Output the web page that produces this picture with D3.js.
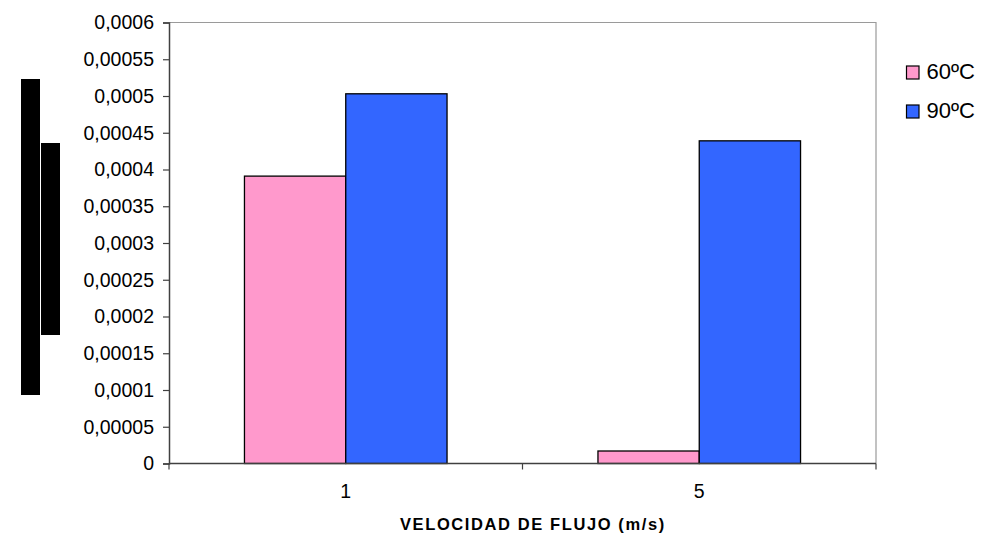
<!DOCTYPE html>
<html>
<head>
<meta charset="utf-8">
<script src="https://cdn.jsdelivr.net/npm/d3@7"></script>
<style>
  html, body { margin: 0; padding: 0; background: #fff; }
  svg { display: block; font-family: "Liberation Sans", Arial, sans-serif; }
</style>
</head>
<body>
<svg id="chart" width="981" height="533"></svg>
<script>
// Flow velocity categories (m/s) and the two temperature series
const categories = ["1", "5"];
const seriesNames = ["60ºC", "90ºC"];
const values60 = [0.000391, 0.000017];
const values90 = [0.000503, 0.000439];
const seriesColors = ["#FF99CC", "#3366FF"];
const yTicks = [0, 0.00005, 0.0001, 0.00015, 0.0002, 0.00025, 0.0003, 0.00035,
                0.0004, 0.00045, 0.0005, 0.00055, 0.0006];
const xTitle = "VELOCIDAD DE FLUJO (m/s)";

const svg = d3.select("#chart");
const plot = { left: 169, right: 876, top: 22.5, bottom: 463.5 };

const x = d3.scaleBand().domain(categories).range([plot.left, plot.right]).paddingInner(0).paddingOuter(0);
const xInner = d3.scaleBand().domain(seriesNames).range([0, x.bandwidth()]).paddingOuter(0.745).paddingInner(0);
const y = d3.scaleLinear().domain([0, 0.0006]).range([plot.bottom, plot.top]);

const fmt = v => v === 0 ? "0" : String(+v.toFixed(6)).replace(".", ",");

// Plot frame (top and right edges)
svg.append("path")
  .attr("d", `M${plot.left},${plot.top}H${plot.right}V${plot.bottom}`)
  .attr("fill", "none").attr("stroke", "#9a9a9a").attr("stroke-width", 1.2);

// Bars
const rows = categories.map((c, i) => ({ c, vals: [values60[i], values90[i]] }));
const groups = svg.append("g").selectAll("g").data(rows).join("g")
  .attr("transform", d => `translate(${x(d.c)},0)`);
groups.selectAll("rect")
  .data(d => d.vals.map((v, j) => ({ v, s: seriesNames[j], color: seriesColors[j] })))
  .join("rect")
  .attr("x", d => xInner(d.s))
  .attr("width", xInner.bandwidth())
  .attr("y", d => y(d.v))
  .attr("height", d => y(0) - y(d.v))
  .attr("fill", d => d.color)
  .attr("stroke", "#000").attr("stroke-width", 1.3);

// Y axis
const yAxis = svg.append("g")
  .attr("transform", `translate(${plot.left},0)`)
  .call(d3.axisLeft(y).tickValues(yTicks).tickFormat(fmt).tickSize(6).tickPadding(9));
yAxis.attr("font-size", null).attr("font-family", null);
yAxis.select(".domain").attr("stroke", "#404040").attr("stroke-width", 1.5);
yAxis.selectAll(".tick line").attr("stroke", "#404040").attr("stroke-width", 1.2);
yAxis.selectAll("text").attr("font-size", 19.5).attr("fill", "#000");

// X axis with ticks at category boundaries
const xAxisG = svg.append("g").attr("transform", `translate(0,${plot.bottom})`);
xAxisG.append("line").attr("x1", plot.left).attr("x2", plot.right)
  .attr("stroke", "#404040").attr("stroke-width", 1.5);
const boundaries = categories.map(c => x(c)).concat([x(categories[categories.length - 1]) + x.bandwidth()]);
xAxisG.selectAll("line.b").data(boundaries).join("line").attr("class", "b")
  .attr("x1", d => d).attr("x2", d => d).attr("y1", 0).attr("y2", 6)
  .attr("stroke", "#404040").attr("stroke-width", 1.2);
xAxisG.selectAll("text").data(categories).join("text")
  .attr("x", d => x(d) + x.bandwidth() / 2)
  .attr("y", 34.5)
  .attr("text-anchor", "middle")
  .attr("font-size", 19.5)
  .text(d => d);

// X axis title
svg.append("text")
  .attr("x", 400).attr("y", 530)
  .attr("font-size", 16.5).attr("font-weight", "bold")
  .attr("letter-spacing", 1.6)
  .text(xTitle);

// Y axis title block
svg.append("rect").attr("x", 21).attr("y", 79).attr("width", 19).attr("height", 316).attr("fill", "#000");
svg.append("rect").attr("x", 41).attr("y", 143).attr("width", 19).attr("height", 192).attr("fill", "#000");

// Legend
const legend = svg.append("g").attr("transform", "translate(906.5,66)");
const li = legend.selectAll("g").data(seriesNames).join("g")
  .attr("transform", (d, i) => `translate(0,${i * 39})`);
li.append("rect").attr("width", 12.5).attr("height", 13)
  .attr("fill", (d, i) => seriesColors[i]).attr("stroke", "#000").attr("stroke-width", 1.2);
li.append("text").attr("x", 20).attr("y", 13).attr("font-size", 22).text(d => d);
</script>
</body>
</html>
